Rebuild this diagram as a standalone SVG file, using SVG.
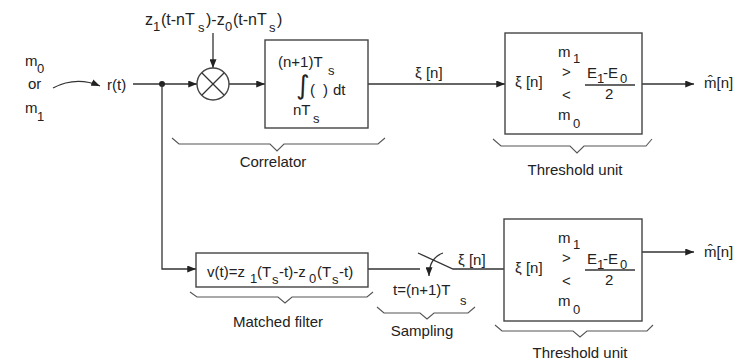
<svg xmlns="http://www.w3.org/2000/svg" width="740" height="362" viewBox="0 0 740 362">
<style>
text{font-family:"Liberation Sans",Arial,sans-serif;font-size:15px;fill:#222}
.sub{font-size:13px}
.big{font-size:16px}
.ln{stroke:#333;stroke-width:1.3;fill:none}
.box{stroke:#444;stroke-width:1.4;fill:#fff}
.br{stroke:#555;stroke-width:1.1;fill:none}
.mid{text-anchor:middle}
</style>
<defs>
<marker id="ah" viewBox="0 0 10 8" refX="10" refY="4" markerWidth="9" markerHeight="7" markerUnits="userSpaceOnUse" orient="auto">
<path d="M0,0 L10,4 L0,8 Z" fill="#222"/>
</marker>
</defs>
<rect width="740" height="362" fill="#fff"/>

<g id="input">
<text x="25" y="66">m</text><text class="sub" x="37" y="73">0</text>
<text x="28" y="89">or</text>
<text x="25" y="113">m</text><text class="sub" x="37" y="121">1</text>
<text x="107" y="90">r(t)</text>
</g>

<g id="connectors">
<path class="ln" d="M53,88 Q76,76 100,86" marker-end="url(#ah)"/>
<line class="ln" x1="133" y1="84" x2="197" y2="84" marker-end="url(#ah)"/>
<circle cx="162" cy="84" r="3" fill="#222"/>
<line class="ln" x1="213" y1="33" x2="213" y2="68" marker-end="url(#ah)"/>
<line class="ln" x1="229" y1="84" x2="265" y2="84" marker-end="url(#ah)"/>
<line class="ln" x1="368" y1="84" x2="505" y2="84" marker-end="url(#ah)"/>
<line class="ln" x1="642" y1="84" x2="694" y2="84" marker-end="url(#ah)"/>
<polyline class="ln" points="162,84 162,269 196,269" marker-end="url(#ah)"/>
<line class="ln" x1="368" y1="269" x2="420" y2="269"/>
<polyline class="ln" points="418,253 453,269 504,269"/>
<path class="ln" d="M443,253 Q429,258 429,276" marker-end="url(#ah)"/>
<line class="ln" x1="642" y1="252" x2="694" y2="252" marker-end="url(#ah)"/>
</g>

<g id="multiplier">
<text class="big" x="145" y="25">z</text><text class="sub" x="153" y="31">1</text>
<text class="big" x="161" y="25">(t-nT</text><text class="sub" x="198" y="32">s</text>
<text class="big" x="206" y="25">)-z</text><text class="sub" x="225" y="31">0</text>
<text class="big" x="233" y="25">(t-nT</text><text class="sub" x="269" y="32">s</text>
<text class="big" x="277" y="25">)</text>
<circle cx="213" cy="84" r="16" class="box"/>
<line class="ln" x1="202" y1="73" x2="224" y2="95"/>
<line class="ln" x1="224" y1="73" x2="202" y2="95"/>
</g>

<g id="correlator">
<rect class="box" x="265" y="40" width="103" height="88"/>
<text x="278" y="67">(n+1)T</text><text class="sub" x="328" y="75">s</text>
<text x="296" y="94" style="font-family:'DejaVu Sans',sans-serif;font-size:26px">∫</text>
<text x="310" y="95">(</text><text x="323" y="95">)</text><text x="333" y="95">dt</text>
<text x="293" y="115">nT</text><text class="sub" x="313" y="123">s</text>
<polyline class="br" points="172,138 179,144 270,144 277,151 284,144 378,144 385,138"/>
<text class="mid" x="273" y="167">Correlator</text>
</g>

<text x="415" y="78">ξ [n]</text>

<g id="threshold1">
<rect class="box" x="505" y="33" width="137" height="101"/>
<text x="515" y="87">ξ [n]</text>
<text x="558" y="57">m</text><text class="sub" x="573" y="63">1</text>
<text x="562" y="77">&gt;</text>
<text x="562" y="100">&lt;</text>
<text x="587" y="78">E</text><text class="sub" x="597" y="83">1</text>
<text x="603" y="78">-E</text><text class="sub" x="620" y="83">0</text>
<line class="ln" x1="585" y1="85" x2="635" y2="85"/>
<text x="605" y="99">2</text>
<text x="558" y="120">m</text><text class="sub" x="573" y="128">0</text>
<polyline class="br" points="493,139 501,146 570,146 577,153 584,146 646,146 652,139"/>
<text class="mid" x="575" y="175">Threshold unit</text>
</g>

<g id="out1">
<text x="704" y="88">m̂[n]</text>
</g>

<g id="matched">
<rect class="box" x="196" y="253" width="172" height="34"/>
<text x="207" y="277">v(t)=z</text><text class="sub" x="250" y="283">1</text>
<text x="257" y="277">(T</text><text class="sub" x="272" y="284">s</text>
<text x="279" y="277">-t)-z</text><text class="sub" x="309" y="283">0</text>
<text x="317" y="277">(T</text><text class="sub" x="332" y="284">s</text>
<text x="339" y="277">-t)</text>
<polyline class="br" points="190,292 197,297 278,297 285,303 292,297 367,297 373,292"/>
<text class="mid" x="278" y="327">Matched filter</text>
</g>

<g id="sampling">
<text x="458" y="265">ξ [n]</text>
<text x="393" y="295">t=(n+1)T</text><text class="sub" x="460" y="305">s</text>
<polyline class="br" points="377,307 384,313 420,313 427,319 434,313 468,313 475,307"/>
<text class="mid" x="422" y="336">Sampling</text>
</g>

<g id="threshold2">
<rect class="box" x="504" y="219" width="138" height="102"/>
<text x="515" y="273">ξ [n]</text>
<text x="558" y="243">m</text><text class="sub" x="573" y="249">1</text>
<text x="562" y="263">&gt;</text>
<text x="562" y="286">&lt;</text>
<text x="587" y="264">E</text><text class="sub" x="597" y="269">1</text>
<text x="603" y="264">-E</text><text class="sub" x="620" y="269">0</text>
<line class="ln" x1="585" y1="270" x2="635" y2="270"/>
<text x="605" y="285">2</text>
<text x="558" y="306">m</text><text class="sub" x="573" y="314">0</text>
<polyline class="br" points="495,325 502,331 573,331 580,337 587,331 647,331 653,325"/>
<text class="mid" x="580" y="358">Threshold unit</text>
</g>

<g id="out2">
<text x="704" y="257">m̂[n]</text>
</g>
</svg>
